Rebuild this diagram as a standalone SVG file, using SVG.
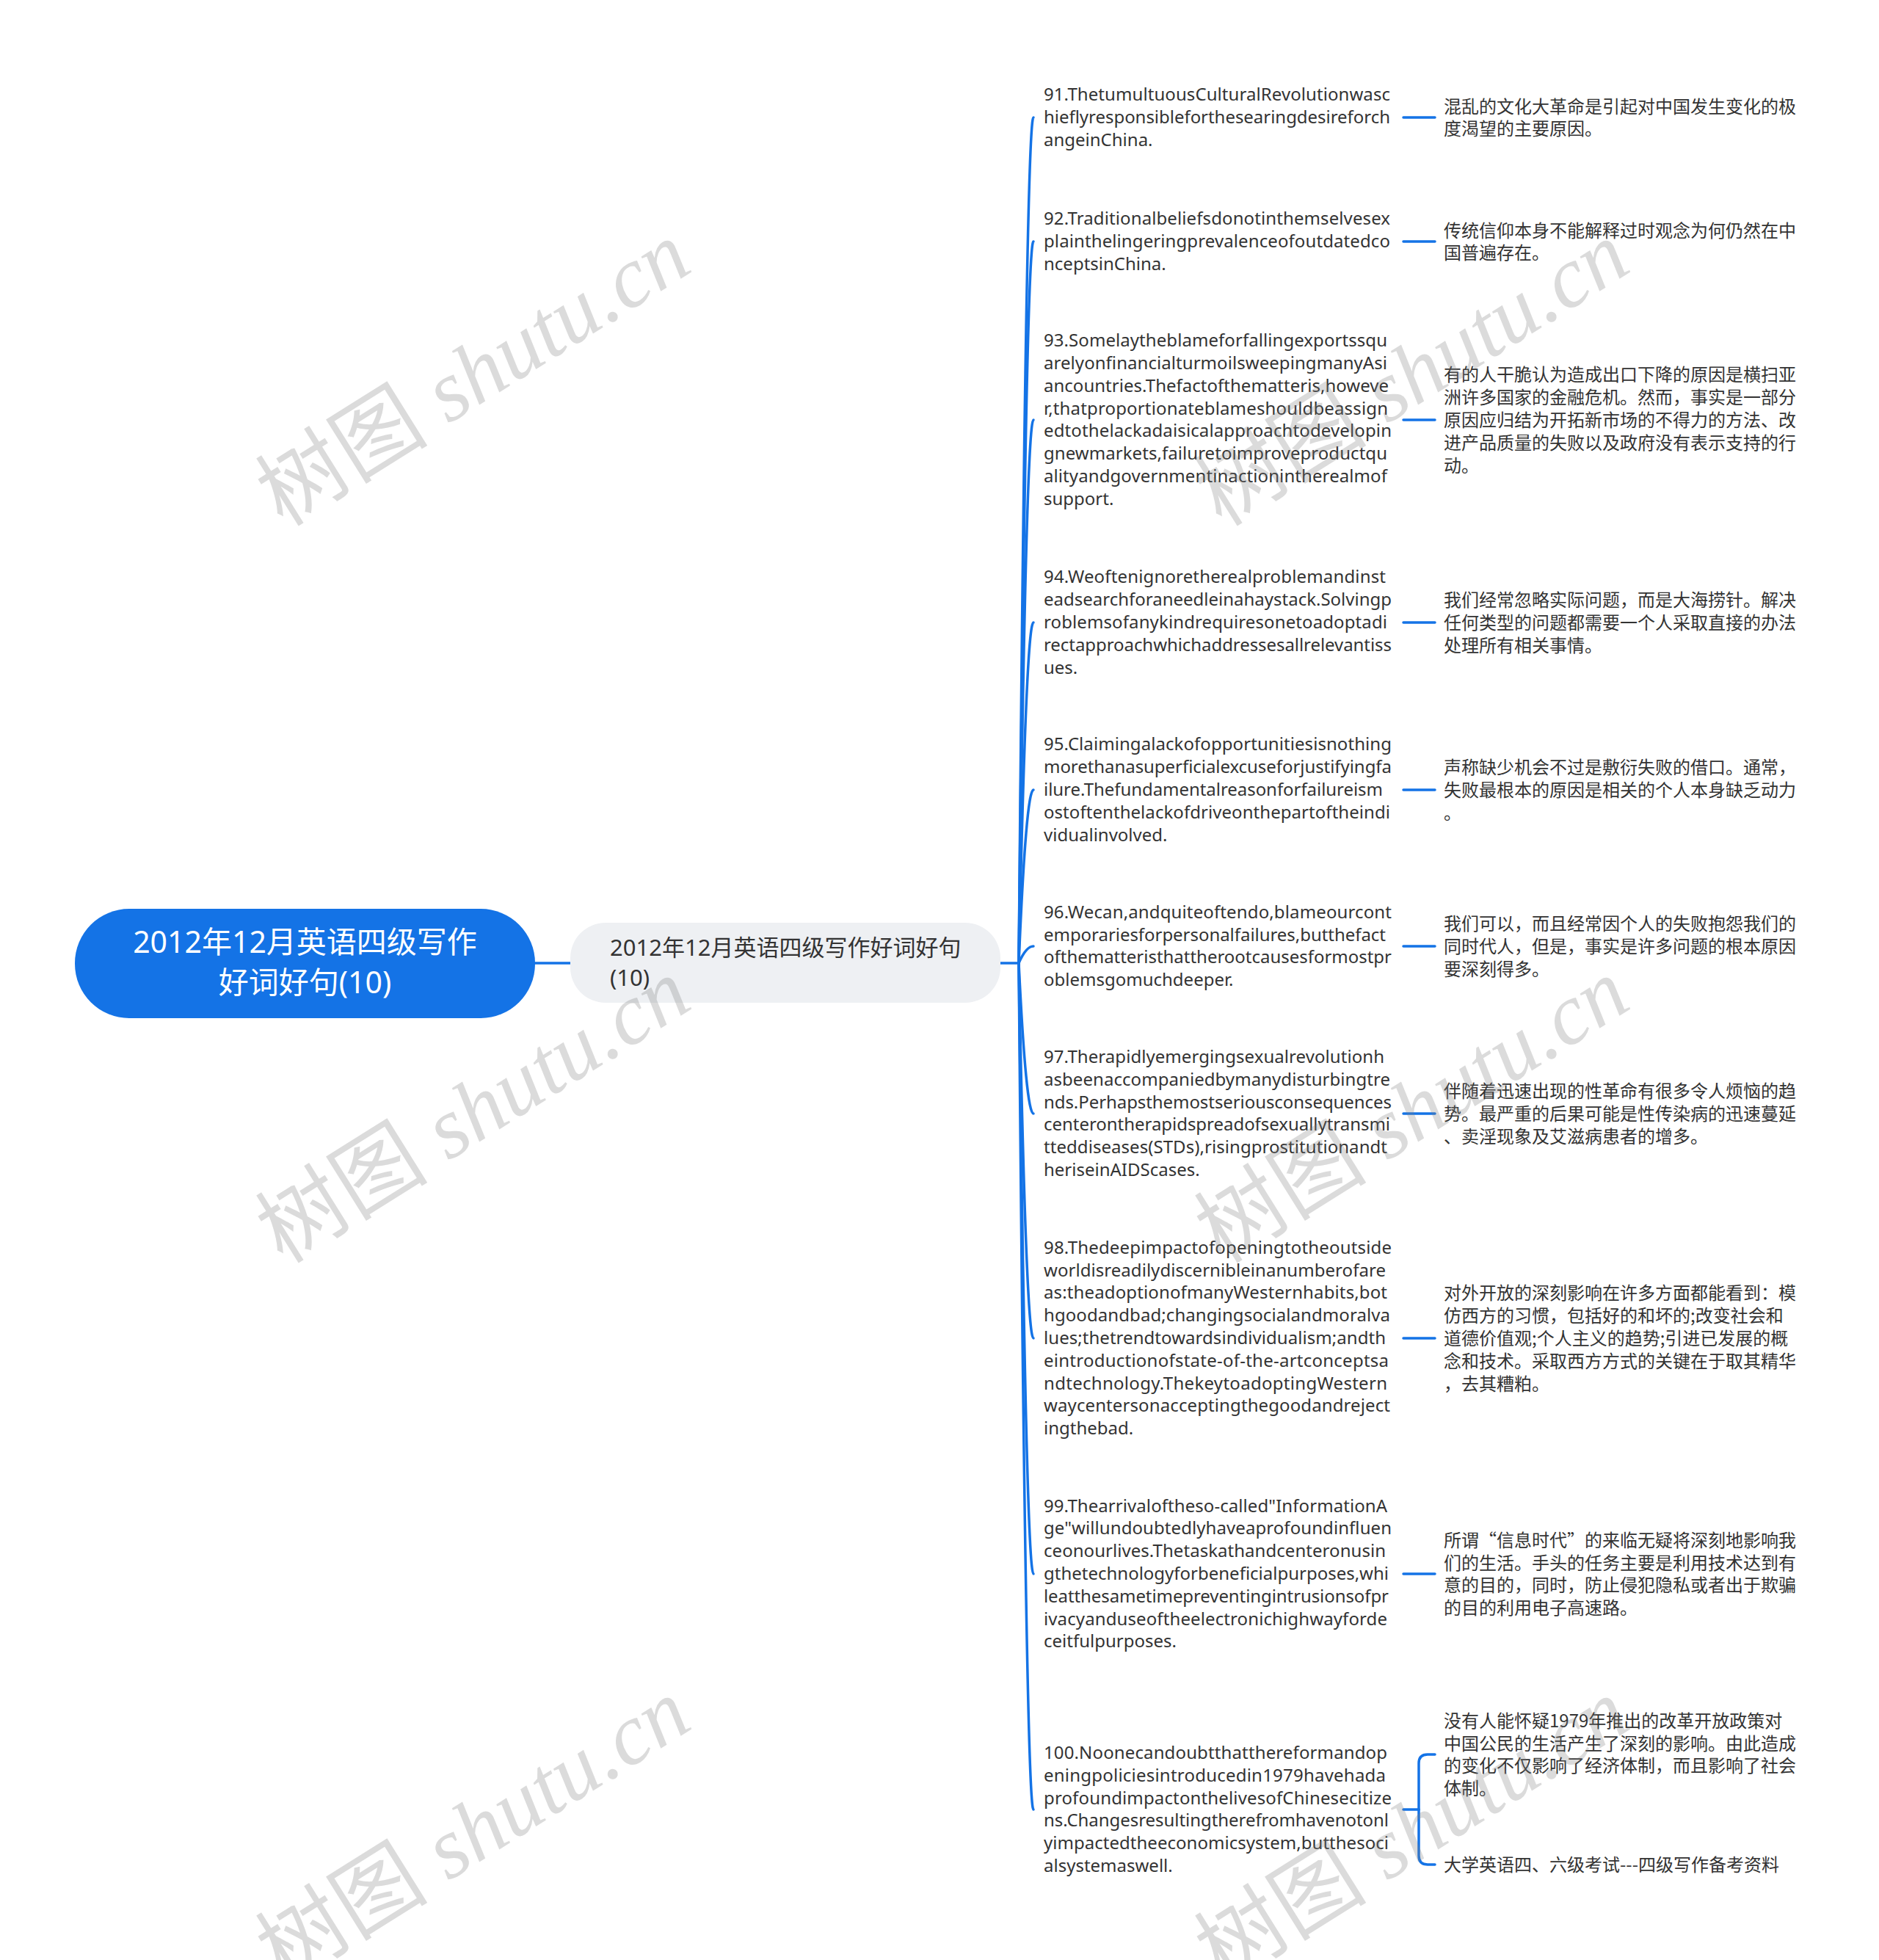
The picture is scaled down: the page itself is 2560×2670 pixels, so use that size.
<svg xmlns="http://www.w3.org/2000/svg" width="2560" height="2670" viewBox="0 0 2560 2670">
<style>
.en{font-family:"Noto Sans","Noto Sans CJK SC",sans-serif;font-size:24px;fill:#333333}
.cn{font-family:"Noto Sans CJK SC","Noto Sans",sans-serif;font-size:24px;fill:#333333}
.link{fill:none;stroke:#1473e6;stroke-width:3.5;stroke-linecap:round;stroke-linejoin:round}
.wm{font-family:"Liberation Serif","Noto Sans CJK SC",serif;font-size:118px;fill:#7f7f7f;fill-opacity:0.28}
</style>
<rect x="0" y="0" width="2560" height="2670" fill="#ffffff"/>
<g id="connectors">
<path class="link" d="M729 1312 L777 1312"/>
<path class="link" d="M1363 1312 L1388 1312"/>
<path class="link" d="M1388 1312 Q1398 160 1408 160"/>
<path class="link" d="M1388 1312 Q1398 329 1408 329"/>
<path class="link" d="M1388 1312 Q1398 572 1408 572"/>
<path class="link" d="M1388 1312 Q1398 848 1408 848"/>
<path class="link" d="M1388 1312 Q1398 1076 1408 1076"/>
<path class="link" d="M1388 1312 Q1398 1289 1408 1289"/>
<path class="link" d="M1388 1312 Q1398 1517 1408 1517"/>
<path class="link" d="M1388 1312 Q1398 1823 1408 1823"/>
<path class="link" d="M1388 1312 Q1398 2144 1408 2144"/>
<path class="link" d="M1388 1312 Q1398 2465 1408 2465"/>
<path class="link" d="M1912 160 L1955 160"/>
<path class="link" d="M1912 329 L1955 329"/>
<path class="link" d="M1912 572 L1955 572"/>
<path class="link" d="M1912 848 L1955 848"/>
<path class="link" d="M1912 1076 L1955 1076"/>
<path class="link" d="M1912 1289 L1955 1289"/>
<path class="link" d="M1912 1517 L1955 1517"/>
<path class="link" d="M1912 1823 L1955 1823"/>
<path class="link" d="M1912 2144 L1955 2144"/>
<path class="link" d="M1912 2465 L1933 2465"/>
<path class="link" d="M1933 2465 L1933 2402 Q1933 2390 1945 2390 L1955 2390"/>
<path class="link" d="M1933 2465 L1933 2528 Q1933 2540 1945 2540 L1955 2540"/>
</g>
<g id="root">
<rect x="102" y="1238" width="627" height="149" rx="74" ry="74" fill="#1473e6"/>
<text x="415.5" y="1298" text-anchor="middle" font-family="Noto Sans, Noto Sans CJK SC, sans-serif" font-size="41" fill="#ffffff">2012年12月英语四级写作</text>
<text x="415.5" y="1353" text-anchor="middle" font-family="Noto Sans, Noto Sans CJK SC, sans-serif" font-size="41" fill="#ffffff">好词好句(10)</text>
</g>
<g id="topic">
<rect x="777" y="1257" width="586" height="109" rx="48" ry="48" fill="#eef0f3"/>
<text x="831" y="1302" font-family="Noto Sans, Noto Sans CJK SC, sans-serif" font-size="31" fill="#333333">2012年12月英语四级写作好词好句</text>
<text x="831" y="1343" font-family="Noto Sans, Noto Sans CJK SC, sans-serif" font-size="31" fill="#333333">(10)</text>
</g>
<g id="n91">
<text class="en" x="1422" y="137.2" textLength="472">91.ThetumultuousCulturalRevolutionwasc</text>
<text class="en" x="1422" y="168" textLength="472">hieflyresponsibleforthesearingdesireforch</text>
<text class="en" x="1422" y="198.8">angeinChina.</text>
</g>
<g id="n91-cn">
<text class="cn" x="1967" y="153.6">混乱的文化大革命是引起对中国发生变化的极</text>
<text class="cn" x="1967" y="184.4">度渴望的主要原因。</text>
</g>
<g id="n92">
<text class="en" x="1422" y="306.2" textLength="472">92.Traditionalbeliefsdonotinthemselvesex</text>
<text class="en" x="1422" y="337" textLength="472">plainthelingeringprevalenceofoutdatedco</text>
<text class="en" x="1422" y="367.8">nceptsinChina.</text>
</g>
<g id="n92-cn">
<text class="cn" x="1967" y="322.6">传统信仰本身不能解释过时观念为何仍然在中</text>
<text class="cn" x="1967" y="353.4">国普遍存在。</text>
</g>
<g id="n93">
<text class="en" x="1422" y="472.2" textLength="468">93.Somelaytheblameforfallingexportssqu</text>
<text class="en" x="1422" y="503" textLength="468">arelyonfinancialturmoilsweepingmanyAsi</text>
<text class="en" x="1422" y="533.8" textLength="470">ancountries.Thefactofthematteris,howeve</text>
<text class="en" x="1422" y="564.6" textLength="469">r,thatproportionateblameshouldbeassign</text>
<text class="en" x="1422" y="595.4" textLength="474">edtothelackadaisicalapproachtodevelopin</text>
<text class="en" x="1422" y="626.2" textLength="468">gnewmarkets,failuretoimproveproductqu</text>
<text class="en" x="1422" y="657" textLength="468">alityandgovernmentinactionintherealmof</text>
<text class="en" x="1422" y="687.8">support.</text>
</g>
<g id="n93-cn">
<text class="cn" x="1967" y="519.4">有的人干脆认为造成出口下降的原因是横扫亚</text>
<text class="cn" x="1967" y="550.2">洲许多国家的金融危机。然而，事实是一部分</text>
<text class="cn" x="1967" y="581">原因应归结为开拓新市场的不得力的方法、改</text>
<text class="cn" x="1967" y="611.8">进产品质量的失败以及政府没有表示支持的行</text>
<text class="cn" x="1967" y="642.6">动。</text>
</g>
<g id="n94">
<text class="en" x="1422" y="794.4" textLength="466">94.Weoftenignoretherealproblemandinst</text>
<text class="en" x="1422" y="825.2" textLength="474">eadsearchforaneedleinahaystack.Solvingp</text>
<text class="en" x="1422" y="856" textLength="468">roblemsofanykindrequiresonetoadoptadi</text>
<text class="en" x="1422" y="886.8" textLength="474">rectapproachwhichaddressesallrelevantiss</text>
<text class="en" x="1422" y="917.6">ues.</text>
</g>
<g id="n94-cn">
<text class="cn" x="1967" y="826.2">我们经常忽略实际问题，而是大海捞针。解决</text>
<text class="cn" x="1967" y="857">任何类型的问题都需要一个人采取直接的办法</text>
<text class="cn" x="1967" y="887.8">处理所有相关事情。</text>
</g>
<g id="n95">
<text class="en" x="1422" y="1022.4" textLength="474">95.Claimingalackofopportunitiesisnothing</text>
<text class="en" x="1422" y="1053.2" textLength="474">morethanasuperficialexcuseforjustifyingfa</text>
<text class="en" x="1422" y="1084" textLength="462">ilure.Thefundamentalreasonforfailureism</text>
<text class="en" x="1422" y="1114.8" textLength="472">ostoftenthelackofdriveonthepartoftheindi</text>
<text class="en" x="1422" y="1145.6">vidualinvolved.</text>
</g>
<g id="n95-cn">
<text class="cn" x="1967" y="1054.2">声称缺少机会不过是敷衍失败的借口。通常，</text>
<text class="cn" x="1967" y="1085">失败最根本的原因是相关的个人本身缺乏动力</text>
<text class="cn" x="1967" y="1115.8">。</text>
</g>
<g id="n96">
<text class="en" x="1422" y="1250.8" textLength="474">96.Wecan,andquiteoftendo,blameourcont</text>
<text class="en" x="1422" y="1281.6" textLength="466">emporariesforpersonalfailures,butthefact</text>
<text class="en" x="1422" y="1312.4" textLength="474">ofthematteristhattherootcausesformostpr</text>
<text class="en" x="1422" y="1343.2">oblemsgomuchdeeper.</text>
</g>
<g id="n96-cn">
<text class="cn" x="1967" y="1267.2">我们可以，而且经常因个人的失败抱怨我们的</text>
<text class="cn" x="1967" y="1298">同时代人，但是，事实是许多问题的根本原因</text>
<text class="cn" x="1967" y="1328.8">要深刻得多。</text>
</g>
<g id="n97">
<text class="en" x="1422" y="1448" textLength="464">97.Therapidlyemergingsexualrevolutionh</text>
<text class="en" x="1422" y="1478.8" textLength="472">asbeenaccompaniedbymanydisturbingtre</text>
<text class="en" x="1422" y="1509.6" textLength="474">nds.Perhapsthemostseriousconsequences</text>
<text class="en" x="1422" y="1540.4" textLength="472">centerontherapidspreadofsexuallytransmi</text>
<text class="en" x="1422" y="1571.2" textLength="468">tteddiseases(STDs),risingprostitutionandt</text>
<text class="en" x="1422" y="1602">heriseinAIDScases.</text>
</g>
<g id="n97-cn">
<text class="cn" x="1967" y="1495.2">伴随着迅速出现的性革命有很多令人烦恼的趋</text>
<text class="cn" x="1967" y="1526">势。最严重的后果可能是性传染病的迅速蔓延</text>
<text class="cn" x="1967" y="1556.8">、卖淫现象及艾滋病患者的增多。</text>
</g>
<g id="n98">
<text class="en" x="1422" y="1707.8" textLength="474">98.Thedeepimpactofopeningtotheoutside</text>
<text class="en" x="1422" y="1738.6" textLength="466">worldisreadilydiscernibleinanumberofare</text>
<text class="en" x="1422" y="1769.4" textLength="468">as:theadoptionofmanyWesternhabits,bot</text>
<text class="en" x="1422" y="1800.2" textLength="472">hgoodandbad;changingsocialandmoralva</text>
<text class="en" x="1422" y="1831" textLength="466">lues;thetrendtowardsindividualism;andth</text>
<text class="en" x="1422" y="1861.8" textLength="470">eintroductionofstate-of-the-artconceptsa</text>
<text class="en" x="1422" y="1892.6" textLength="468">ndtechnology.ThekeytoadoptingWestern</text>
<text class="en" x="1422" y="1923.4" textLength="472">waycentersonacceptingthegoodandreject</text>
<text class="en" x="1422" y="1954.2">ingthebad.</text>
</g>
<g id="n98-cn">
<text class="cn" x="1967" y="1770.4">对外开放的深刻影响在许多方面都能看到：模</text>
<text class="cn" x="1967" y="1801.2">仿西方的习惯，包括好的和坏的;改变社会和</text>
<text class="cn" x="1967" y="1832">道德价值观;个人主义的趋势;引进已发展的概</text>
<text class="cn" x="1967" y="1862.8">念和技术。采取西方方式的关键在于取其精华</text>
<text class="cn" x="1967" y="1893.6">，去其糟粕。</text>
</g>
<g id="n99">
<text class="en" x="1422" y="2059.6" textLength="468">99.Thearrivaloftheso-called"InformationA</text>
<text class="en" x="1422" y="2090.4" textLength="474">ge"willundoubtedlyhaveaprofoundinfluen</text>
<text class="en" x="1422" y="2121.2" textLength="466">ceonourlives.Thetaskathandcenteronusin</text>
<text class="en" x="1422" y="2152" textLength="470">gthetechnologyforbeneficialpurposes,whi</text>
<text class="en" x="1422" y="2182.8" textLength="470">leatthesametimepreventingintrusionsofpr</text>
<text class="en" x="1422" y="2213.6" textLength="468">ivacyanduseoftheelectronichighwayforde</text>
<text class="en" x="1422" y="2244.4">ceitfulpurposes.</text>
</g>
<g id="n99-cn">
<text class="cn" x="1967" y="2106.8">所谓“信息时代”的来临无疑将深刻地影响我</text>
<text class="cn" x="1967" y="2137.6">们的生活。手头的任务主要是利用技术达到有</text>
<text class="cn" x="1967" y="2168.4">意的目的，同时，防止侵犯隐私或者出于欺骗</text>
<text class="cn" x="1967" y="2199.2">的目的利用电子高速路。</text>
</g>
<g id="n100">
<text class="en" x="1422" y="2396" textLength="468">100.Noonecandoubtthatthereformandop</text>
<text class="en" x="1422" y="2426.8" textLength="466">eningpoliciesintroducedin1979havehada</text>
<text class="en" x="1422" y="2457.6" textLength="474">profoundimpactonthelivesofChinesecitize</text>
<text class="en" x="1422" y="2488.4" textLength="470">ns.Changesresultingtherefromhavenotonl</text>
<text class="en" x="1422" y="2519.2" textLength="470">yimpactedtheeconomicsystem,butthesoci</text>
<text class="en" x="1422" y="2550">alsystemaswell.</text>
</g>
<g id="n100-cn">
<text class="cn" x="1967" y="2352.8">没有人能怀疑1979年推出的改革开放政策对</text>
<text class="cn" x="1967" y="2383.6">中国公民的生活产生了深刻的影响。由此造成</text>
<text class="cn" x="1967" y="2414.4">的变化不仅影响了经济体制，而且影响了社会</text>
<text class="cn" x="1967" y="2445.2">体制。</text>
</g>
<g id="n100-ref">
<text class="cn" x="1967" y="2549">大学英语四、六级考试---四级写作备考资料</text>
</g>
<g id="watermarks">
<text class="wm" x="646" y="549" text-anchor="middle" transform="rotate(-32 646 511)">树图 <tspan font-style="italic">shutu.cn</tspan></text>
<text class="wm" x="1925" y="549" text-anchor="middle" transform="rotate(-32 1925 511)">树图 <tspan font-style="italic">shutu.cn</tspan></text>
<text class="wm" x="646" y="1553" text-anchor="middle" transform="rotate(-32 646 1515)">树图 <tspan font-style="italic">shutu.cn</tspan></text>
<text class="wm" x="1925" y="1553" text-anchor="middle" transform="rotate(-32 1925 1515)">树图 <tspan font-style="italic">shutu.cn</tspan></text>
<text class="wm" x="646" y="2534" text-anchor="middle" transform="rotate(-32 646 2496)">树图 <tspan font-style="italic">shutu.cn</tspan></text>
<text class="wm" x="1925" y="2534" text-anchor="middle" transform="rotate(-32 1925 2496)">树图 <tspan font-style="italic">shutu.cn</tspan></text>
</g>
</svg>
